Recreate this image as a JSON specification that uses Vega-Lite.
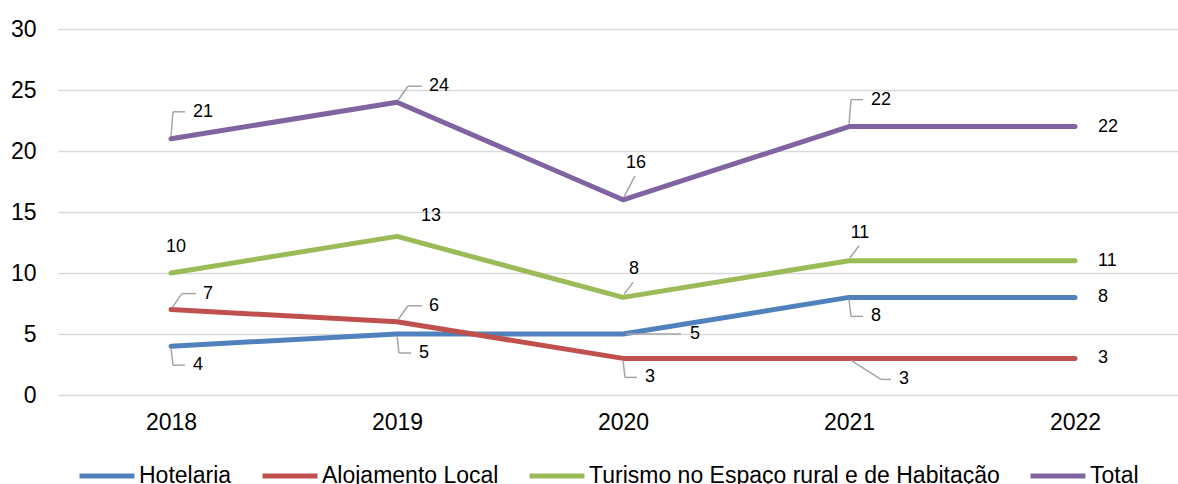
{
  "$schema": "https://vega.github.io/schema/vega-lite/v6.json",
  "width": 1120,
  "height": 366,
  "autosize": "none",
  "padding": {"left": 58, "top": 29, "right": 0, "bottom": 89},
  "background": "white",
  "config": {
    "view": {"stroke": null},
    "font": "Liberation Sans",
    "axis": {"labelFont": "Liberation Sans", "labelColor": "#000000"},
    "legend": {"labelFont": "Liberation Sans"}
  },
  "data": {
    "values": [
      {"year": "2018", "series": "Hotelaria", "value": 4, "pos": "elbow-down"},
      {"year": "2019", "series": "Hotelaria", "value": 5, "pos": "elbow-down"},
      {"year": "2020", "series": "Hotelaria", "value": 5, "pos": "right-far"},
      {"year": "2021", "series": "Hotelaria", "value": 8, "pos": "elbow-down"},
      {"year": "2022", "series": "Hotelaria", "value": 8, "pos": "right"},
      {"year": "2018", "series": "Alojamento Local", "value": 7, "pos": "diag-up"},
      {"year": "2019", "series": "Alojamento Local", "value": 6, "pos": "diag-up"},
      {"year": "2020", "series": "Alojamento Local", "value": 3, "pos": "elbow-down"},
      {"year": "2021", "series": "Alojamento Local", "value": 3, "pos": "diag-down"},
      {"year": "2022", "series": "Alojamento Local", "value": 3, "pos": "right"},
      {"year": "2018", "series": "Turismo no Espaço rural e de Habitação", "value": 10, "pos": "above-left"},
      {"year": "2019", "series": "Turismo no Espaço rural e de Habitação", "value": 13, "pos": "above-right"},
      {"year": "2020", "series": "Turismo no Espaço rural e de Habitação", "value": 8, "pos": "above"},
      {"year": "2021", "series": "Turismo no Espaço rural e de Habitação", "value": 11, "pos": "above"},
      {"year": "2022", "series": "Turismo no Espaço rural e de Habitação", "value": 11, "pos": "right"},
      {"year": "2018", "series": "Total", "value": 21, "pos": "elbow-up"},
      {"year": "2019", "series": "Total", "value": 24, "pos": "diag-up"},
      {"year": "2020", "series": "Total", "value": 16, "pos": "above-high"},
      {"year": "2021", "series": "Total", "value": 22, "pos": "elbow-up"},
      {"year": "2022", "series": "Total", "value": 22, "pos": "right"}
    ]
  },
  "encoding": {
    "x": {
      "field": "year", "type": "ordinal",
      "scale": {"type": "point", "range": [0, 1130], "padding": 0.5},
      "axis": {"title": null, "ticks": false, "domain": false, "grid": false, "labelFontSize": 23, "labelPadding": 16, "labelAngle": 0}
    },
    "y": {
      "field": "value", "type": "quantitative",
      "scale": {"domain": [0, 30], "nice": false},
      "axis": {"title": null, "ticks": false, "domain": false, "grid": true, "gridColor": "#d9d9d9", "gridWidth": 1.5, "values": [0, 5, 10, 15, 20, 25, 30], "labelFontSize": 23, "labelPadding": 22}
    }
  },
  "layer": [
    {
      "mark": {"type": "line", "strokeWidth": 5, "strokeCap": "round", "strokeJoin": "round"},
      "encoding": {
        "color": {
          "field": "series", "type": "nominal",
          "scale": {
            "domain": ["Hotelaria", "Alojamento Local", "Turismo no Espaço rural e de Habitação", "Total"],
            "range": ["#4f81bd", "#c0504d", "#9bbb59", "#8064a2"]
          },
          "legend": {
            "title": null, "orient": "none", "direction": "horizontal", "legendX": 19, "legendY": 417,
            "symbolType": "stroke", "symbolSize": 3025, "symbolStrokeWidth": 5,
            "labelFontSize": 23, "labelColor": "#000000", "labelOffset": 2, "columnPadding": 20, "padding": 0, "labelLimit": 600
          }
        }
      }
    },
    {
      "transform": [{"filter": "datum.pos === 'elbow-up'"}],
      "mark": {"type": "rule", "color": "#a6a6a6", "strokeWidth": 1.5, "xOffset": 0, "yOffset": -3, "x2Offset": 2, "y2Offset": -27},
      "encoding": {"x2": {"field": "year"}, "y2": {"field": "value"}}
    },
    {
      "transform": [{"filter": "datum.pos === 'elbow-up'"}],
      "mark": {"type": "rule", "color": "#a6a6a6", "strokeWidth": 1.5, "xOffset": 2, "yOffset": -27, "x2Offset": 14, "y2Offset": -27},
      "encoding": {"x2": {"field": "year"}, "y2": {"field": "value"}}
    },
    {
      "transform": [{"filter": "datum.pos === 'elbow-up'"}],
      "mark": {"type": "text", "align": "left", "baseline": "middle", "dx": 22, "dy": -27, "fontSize": 18, "color": "#000000"},
      "encoding": {"text": {"field": "value", "type": "quantitative"}}
    },
    {
      "transform": [{"filter": "datum.pos === 'diag-up'"}],
      "mark": {"type": "rule", "color": "#a6a6a6", "strokeWidth": 1.5, "xOffset": 1, "yOffset": -2, "x2Offset": 11, "y2Offset": -16},
      "encoding": {"x2": {"field": "year"}, "y2": {"field": "value"}}
    },
    {
      "transform": [{"filter": "datum.pos === 'diag-up'"}],
      "mark": {"type": "rule", "color": "#a6a6a6", "strokeWidth": 1.5, "xOffset": 11, "yOffset": -16, "x2Offset": 25, "y2Offset": -16},
      "encoding": {"x2": {"field": "year"}, "y2": {"field": "value"}}
    },
    {
      "transform": [{"filter": "datum.pos === 'diag-up'"}],
      "mark": {"type": "text", "align": "left", "baseline": "middle", "dx": 32, "dy": -16, "fontSize": 18, "color": "#000000"},
      "encoding": {"text": {"field": "value", "type": "quantitative"}}
    },
    {
      "transform": [{"filter": "datum.pos === 'elbow-down'"}],
      "mark": {"type": "rule", "color": "#a6a6a6", "strokeWidth": 1.5, "xOffset": 0, "yOffset": 2, "x2Offset": 2, "y2Offset": 19},
      "encoding": {"x2": {"field": "year"}, "y2": {"field": "value"}}
    },
    {
      "transform": [{"filter": "datum.pos === 'elbow-down'"}],
      "mark": {"type": "rule", "color": "#a6a6a6", "strokeWidth": 1.5, "xOffset": 2, "yOffset": 19, "x2Offset": 14, "y2Offset": 19},
      "encoding": {"x2": {"field": "year"}, "y2": {"field": "value"}}
    },
    {
      "transform": [{"filter": "datum.pos === 'elbow-down'"}],
      "mark": {"type": "text", "align": "left", "baseline": "middle", "dx": 22, "dy": 19, "fontSize": 18, "color": "#000000"},
      "encoding": {"text": {"field": "value", "type": "quantitative"}}
    },
    {
      "transform": [{"filter": "datum.pos === 'diag-down'"}],
      "mark": {"type": "rule", "color": "#a6a6a6", "strokeWidth": 1.5, "xOffset": 2, "yOffset": 2, "x2Offset": 32, "y2Offset": 21},
      "encoding": {"x2": {"field": "year"}, "y2": {"field": "value"}}
    },
    {
      "transform": [{"filter": "datum.pos === 'diag-down'"}],
      "mark": {"type": "rule", "color": "#a6a6a6", "strokeWidth": 1.5, "xOffset": 32, "yOffset": 21, "x2Offset": 42, "y2Offset": 21},
      "encoding": {"x2": {"field": "year"}, "y2": {"field": "value"}}
    },
    {
      "transform": [{"filter": "datum.pos === 'diag-down'"}],
      "mark": {"type": "text", "align": "left", "baseline": "middle", "dx": 50, "dy": 21, "fontSize": 18, "color": "#000000"},
      "encoding": {"text": {"field": "value", "type": "quantitative"}}
    },
    {
      "transform": [{"filter": "datum.pos === 'above'"}],
      "mark": {"type": "rule", "color": "#a6a6a6", "strokeWidth": 1.5, "xOffset": 1, "yOffset": -3, "x2Offset": 10, "y2Offset": -15},
      "encoding": {"x2": {"field": "year"}, "y2": {"field": "value"}}
    },
    {
      "transform": [{"filter": "datum.pos === 'above'"}],
      "mark": {"type": "text", "align": "center", "baseline": "middle", "dx": 11, "dy": -28, "fontSize": 18, "color": "#000000"},
      "encoding": {"text": {"field": "value", "type": "quantitative"}}
    },
    {
      "transform": [{"filter": "datum.pos === 'above-high'"}],
      "mark": {"type": "rule", "color": "#a6a6a6", "strokeWidth": 1.5, "xOffset": 1, "yOffset": -3, "x2Offset": 12, "y2Offset": -24},
      "encoding": {"x2": {"field": "year"}, "y2": {"field": "value"}}
    },
    {
      "transform": [{"filter": "datum.pos === 'above-high'"}],
      "mark": {"type": "text", "align": "center", "baseline": "middle", "dx": 13, "dy": -37, "fontSize": 18, "color": "#000000"},
      "encoding": {"text": {"field": "value", "type": "quantitative"}}
    },
    {
      "transform": [{"filter": "datum.pos === 'above-left'"}],
      "mark": {"type": "text", "align": "center", "baseline": "middle", "dx": 5, "dy": -26, "fontSize": 18, "color": "#000000"},
      "encoding": {"text": {"field": "value", "type": "quantitative"}}
    },
    {
      "transform": [{"filter": "datum.pos === 'above-right'"}],
      "mark": {"type": "text", "align": "center", "baseline": "middle", "dx": 34, "dy": -20, "fontSize": 18, "color": "#000000"},
      "encoding": {"text": {"field": "value", "type": "quantitative"}}
    },
    {
      "transform": [{"filter": "datum.pos === 'right-far'"}],
      "mark": {"type": "rule", "color": "#a6a6a6", "strokeWidth": 1.5, "xOffset": 3, "yOffset": 0, "x2Offset": 58, "y2Offset": 0},
      "encoding": {"x2": {"field": "year"}, "y2": {"field": "value"}}
    },
    {
      "transform": [{"filter": "datum.pos === 'right-far'"}],
      "mark": {"type": "text", "align": "left", "baseline": "middle", "dx": 67, "dy": 0, "fontSize": 18, "color": "#000000"},
      "encoding": {"text": {"field": "value", "type": "quantitative"}}
    },
    {
      "transform": [{"filter": "datum.pos === 'right'"}],
      "mark": {"type": "text", "align": "left", "baseline": "middle", "dx": 23, "dy": 0, "fontSize": 18, "color": "#000000"},
      "encoding": {"text": {"field": "value", "type": "quantitative"}}
    }
  ]
}
